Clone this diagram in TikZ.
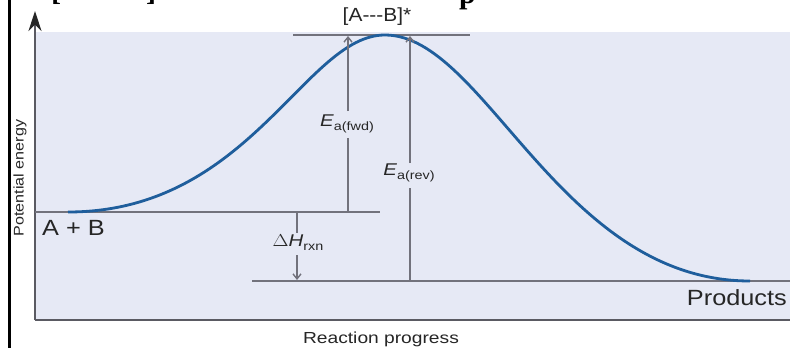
\documentclass[tikz,border=0pt]{standalone}
\usepackage{fontspec}
\setmainfont{Liberation Sans}
\newfontfamily\titlefont{Liberation Serif}
\usetikzlibrary{arrows.meta}
\definecolor{bgblue}{HTML}{E6E9F5}
\definecolor{curveblue}{HTML}{1F5E9C}
\definecolor{guide}{HTML}{72727C}
\definecolor{axisgray}{HTML}{5A5A62}
\tikzset{
  guideline/.style={draw=guide, line width=1.4pt},
  guidearrow/.style={guideline, -{Straight Barb[length=5pt,width=8pt]}},
  lbl/.style={inner sep=0pt, text=black!85},
  sublbl/.style={lbl, font=\fontsize{17}{17}\selectfont},
  titlebit/.style={inner sep=0pt, anchor=base west, font=\titlefont\bfseries\fontsize{30}{30}\selectfont}
}
\newcommand{\subtxt}[1]{\raisebox{-0.45ex}{\fontsize{12}{12}\selectfont #1}}
\newcommand{\wide}[2]{\scalebox{#1}[1]{#2}}
\begin{document}
\begin{tikzpicture}[x=1pt,y=-1pt]
\useasboundingbox (0,0) rectangle (790,348);
\clip (0,0) rectangle (790,348);
\fill[white] (0,0) rectangle (790,348);
\fill[bgblue] (35,32) rectangle (790,320);
% cropped title fragments
\node[titlebit] (tb1) at (51,0) {[};
\node[titlebit] (tb2) at (146,0) {]};
\node[titlebit] (tb3) at (459,4) {p};
% left border
\draw[line width=3pt, black] (9,0) -- (9,348);
% axes
\draw[draw=axisgray, line width=2pt] (35,320) -- (790,320);
\draw[draw=axisgray, line width=1.5pt, -{Stealth[length=20pt,width=13pt,black!85]}] (35,320) -- (35,11);
% level lines
\coordinate (rl) at (35,212);
\coordinate (rr) at (380,212);
\coordinate (pl) at (252,281);
\coordinate (pr) at (790,281);
\coordinate (tl) at (293,35);
\coordinate (tr) at (470,35);
\draw[guideline] (rl) -- (rr);
\draw[guideline] (pl) -- (pr);
\draw[guideline] (tl) -- (tr);
% curve
\coordinate (cs) at (68,212);
\coordinate (cp) at (385,35);
\coordinate (ce) at (750,281);
\draw[draw=curveblue, line width=2.8pt] (cs) .. controls (250,212) and (305,35) .. (cp) .. controls (485,35) and (560,281) .. (ce);
% labels
\node[lbl, font=\fontsize{19}{19}\selectfont] (ts) at (377,17) {\wide{1.1}{[A{-}{-}{-}B]*}};
\node[lbl, font=\fontsize{22}{22}\selectfont, anchor=west] (ab) at (42,228) {\wide{1.15}{A + B}};
\node[lbl, font=\fontsize{22}{22}\selectfont, anchor=east] (pd) at (787,298) {\wide{1.15}{Products}};
\node[lbl, font=\fontsize{14}{14}\selectfont, rotate=90] (pe) at (20,178) {\wide{1.15}{Potential energy}};
\node[lbl, font=\fontsize{16}{16}\selectfont] (rp) at (381,339) {\wide{1.2}{Reaction progress}};
% Ea(fwd)
\coordinate (fb) at (348,212);
\coordinate (ft) at (348,36);
\node[sublbl] (lf) at (347,124) {\wide{1.2}{\itshape E\upshape\subtxt{a(fwd)}}};
\draw[guideline] (fb) -- (348,138);
\draw[guidearrow] (348,111) -- (ft);
% Ea(rev)
\coordinate (vb) at (410,281);
\coordinate (vt) at (410,36);
\node[sublbl] (lv) at (409,173) {\wide{1.2}{\itshape E\upshape\subtxt{a(rev)}}};
\draw[guideline] (vb) -- (410,188);
\draw[guidearrow] (410,163) -- (vt);
% Delta H
\coordinate (hb) at (297,213);
\coordinate (ht) at (297,280);
\node[sublbl] (lh) at (298,243) {\wide{1.2}{$\Delta$\itshape H\upshape\subtxt{rxn}}};
\draw[guideline] (hb) -- (297,233);
\draw[guidearrow] (297,255) -- (ht);
\end{tikzpicture}
\end{document}
